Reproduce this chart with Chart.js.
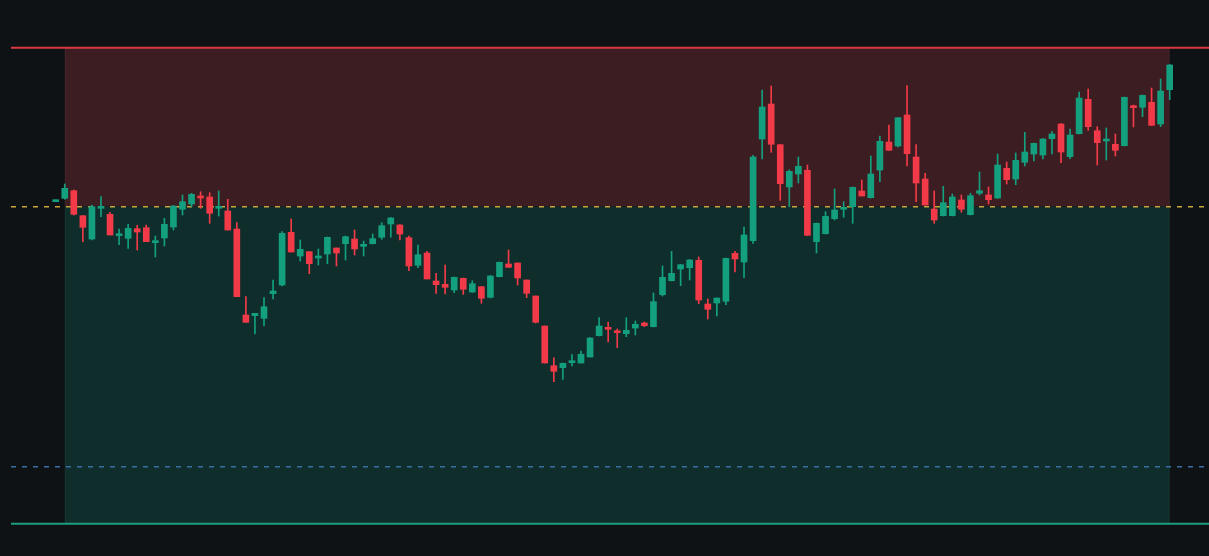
<!DOCTYPE html>
<html>
<head>
<meta charset="utf-8">
<script src="https://cdn.jsdelivr.net/npm/chart.js@4.4.0/dist/chart.umd.min.js"></script>
<style>
  html, body { margin: 0; padding: 0; background: #0e1215; }
  #wrap { width: 1209px; height: 556px; position: relative; }
</style>
</head>
<body>
<div id="wrap"><canvas id="chart"></canvas></div>
<script>
// candles (arbitrary price units)
var opens = [398.3, 401.7, 409.3, 384.3, 361, 391.7, 385.7, 364.3, 361.7, 371.3,
  372.3, 357.3, 362, 373, 390.7, 396, 404, 403, 391.7, 389,
  371, 285, 284.3, 281.7, 306.3, 315, 367.7, 344, 348.3, 342,
  346, 352, 356.3, 361, 353.7, 356.3, 362.7, 376, 375, 362.3,
  334.7, 347, 319, 315.7, 310, 321.7, 308, 313.3, 302.7, 323.3,
  336, 337, 320, 304, 274, 234.3, 232.3, 237.3, 237, 243,
  264.3, 272.7, 269, 266.3, 272, 277, 273.3, 305.3, 319.3, 331,
  332.3, 339.7, 296, 297, 298.7, 346.7, 338, 359.3, 461, 496,
  455.3, 413, 426, 429.7, 358.3, 366.3, 381.3, 390.7, 393.3, 409,
  402.3, 430, 458, 454, 485, 443, 421, 391, 384.3, 384.3,
  400, 385.3, 406.7, 405, 402, 431.7, 421, 437.7, 446, 445,
  461.3, 476, 443.3, 466.3, 500.7, 469.3, 459, 455.7, 454.3, 494,
  492.7, 497.7, 476, 510.3];
var highs = [400, 416, 410, 384.3, 395, 403.3, 387.7, 371, 375.7, 374.7,
  375, 364, 381.7, 394.5, 405, 406.7, 408.3, 407.3, 409, 400.7,
  377.3, 303.3, 286.7, 302.3, 320, 368.3, 381, 360, 348.3, 351,
  363, 352, 364, 370, 359, 366, 377.3, 382.5, 375.5, 364,
  355, 348.7, 326.7, 335, 323, 322, 319.3, 313.5, 324.5, 338,
  350, 337, 320, 304, 274, 242.3, 237, 245.3, 249, 262.5,
  282.3, 278, 271, 282.3, 279, 278, 307, 334, 348.7, 335.5,
  340.5, 343, 301, 302, 342, 348.7, 373, 444.7, 510, 514,
  455.5, 430, 443, 435, 377, 388.3, 411, 398.3, 413, 420,
  444, 464, 475, 482.5, 514.3, 455.3, 426.7, 409, 413.7, 406,
  405, 406.7, 428, 413, 446, 438, 447, 467.7, 457, 461.5,
  468.3, 476.5, 471, 508, 511, 473.3, 472, 466, 503, 495,
  505, 512, 521, 535.5];
var lows = [398.3, 400.7, 385, 358.3, 360, 383.3, 365, 355.3, 351.7, 350,
  358.3, 343, 354, 370, 385, 393.3, 391.7, 376.7, 384, 370,
  303.3, 277.7, 266, 274.3, 301, 314, 348, 339, 326.3, 335,
  336.3, 334, 340, 345, 344, 356, 360.7, 362.7, 360, 329.3,
  332.3, 321, 306.7, 306, 307.3, 305.7, 307.5, 296.7, 302, 323,
  332.7, 315, 302.3, 277, 237, 218.3, 220.7, 234, 237, 243,
  264, 258, 252.3, 263.3, 265, 273.3, 273, 304, 319, 314.3,
  320, 296.3, 281, 284, 295.3, 328, 322.3, 356.7, 441, 447.7,
  399.7, 393.3, 417, 364.5, 347, 366, 380, 382.7, 376.7, 404,
  402, 418.3, 449.5, 453, 434, 398.3, 395, 376.7, 384, 384,
  387.7, 385, 405, 396, 401.5, 416, 415.3, 434, 439, 441,
  446, 437.3, 441.3, 466, 469.7, 435, 440, 444, 454, 473,
  483.3, 474.5, 473.3, 500.3];
var closes = [400, 411.7, 385.7, 372.7, 393.3, 393.3, 365, 366, 371.7, 368,
  358.3, 359, 375.7, 394, 398.3, 405.7, 402, 386.7, 393.3, 370,
  303.3, 277.7, 286.7, 293.3, 309, 366.7, 348, 350.7, 336.3, 343.7,
  362.7, 347, 363.3, 351, 355.3, 361.3, 374.3, 382, 366, 334,
  345.3, 321, 315.3, 312.7, 322.7, 310.7, 316.3, 301.7, 324, 337.7,
  332.7, 322, 306.7, 277.7, 237, 228.7, 236.7, 239.3, 245.7, 262,
  274, 270.7, 267.3, 269.7, 275.7, 274.3, 298.3, 322.7, 326.7, 335.3,
  340, 300, 290.7, 302, 341.7, 341, 365, 443, 493, 455.7,
  416.3, 428.7, 433.7, 364.7, 376.7, 383.7, 390, 392.3, 412.7, 404,
  426, 458.7, 449.7, 482.3, 446.3, 417, 395, 380, 397.3, 403,
  390.7, 404.3, 409.3, 400.3, 435, 420.3, 439.7, 448, 456.7, 461,
  466, 448, 465, 502, 473.3, 457.3, 461, 449.7, 502.7, 492.3,
  504.7, 474.7, 509, 535];

// position levels
var stopLevel = 552.3;
var entryLevel = 393.3;
var alertLevel = 133.3;
var targetLevel = 76.3;
var zoneStart = 1;
var zoneEnd = 123;

var UP = '#14a07f';
var DOWN = '#f23a48';

var wicks = [], bodies = [], colors = [];
for (var i = 0; i < opens.length; i++) {
  wicks.push({ x: i, y: [lows[i], highs[i]] });
  bodies.push({ x: i, y: [opens[i], closes[i]] });
  colors.push(closes[i] >= opens[i] ? UP : DOWN);
}

var zones = {
  id: 'zones',
  beforeDatasetsDraw: function (chart) {
    var c = chart.ctx, xs = chart.scales.x, ys = chart.scales.y, a = chart.chartArea;
    var x0 = xs.getPixelForValue(zoneStart), x1 = xs.getPixelForValue(zoneEnd);
    var yStop = ys.getPixelForValue(stopLevel);
    var yEntry = ys.getPixelForValue(entryLevel);
    var yTarget = ys.getPixelForValue(targetLevel);
    var yAlert = ys.getPixelForValue(alertLevel);
    c.save();
    c.fillStyle = '#3c1d21';
    c.fillRect(x0, yStop, x1 - x0, yEntry - yStop);
    c.fillStyle = '#0f2e2b';
    c.fillRect(x0, yEntry, x1 - x0, yTarget - yEntry);
    c.fillStyle = 'rgba(255,255,255,0.04)';
    c.fillRect(x0, yStop, 1, yTarget - yStop);
    c.fillRect(x1 - 1, yStop, 1, yTarget - yStop);

    c.lineWidth = 2;
    c.strokeStyle = '#d93a42';
    c.beginPath(); c.moveTo(a.left, yStop); c.lineTo(a.right, yStop); c.stroke();
    c.strokeStyle = '#1d9e7e';
    c.beginPath(); c.moveTo(a.left, yTarget); c.lineTo(a.right, yTarget); c.stroke();

    c.lineWidth = 1.5;
    c.setLineDash([5, 6]);
    c.strokeStyle = '#c9a53a';
    c.beginPath(); c.moveTo(a.left, yEntry); c.lineTo(a.right - 4, yEntry); c.stroke();
    c.strokeStyle = '#3b6ea5';
    c.beginPath(); c.moveTo(a.left, yAlert); c.lineTo(a.right - 4, yAlert); c.stroke();
    c.restore();
  }
};

new Chart(document.getElementById('chart'), {
  type: 'bar',
  data: {
    datasets: [
      { data: wicks, backgroundColor: colors, barThickness: 1, grouped: false },
      { data: bodies, backgroundColor: colors, barThickness: 6, minBarLength: 2, grouped: false }
    ]
  },
  options: {
    responsive: true,
    maintainAspectRatio: false,
    animation: false,
    layout: { padding: { left: 11, right: 0, top: 0, bottom: 0 } },
    plugins: { legend: { display: false }, tooltip: { enabled: false } },
    scales: {
      x: { type: 'linear', offset: false, min: -4.935, max: 127.34, display: false },
      y: { min: 44, max: 600, display: false }
    }
  },
  plugins: [zones]
});
</script>
</body>
</html>
